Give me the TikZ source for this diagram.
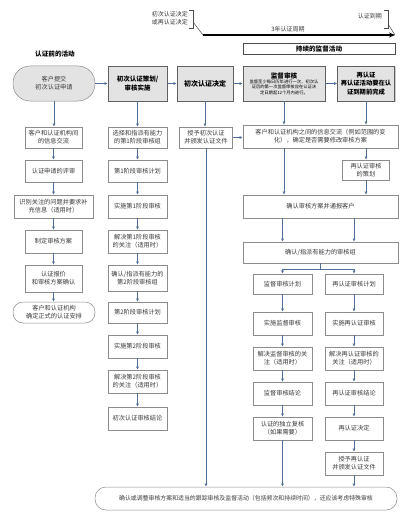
\documentclass[tikz,border=0pt]{standalone}
\usepackage{fontspec}
\setmainfont{Noto Sans CJK SC}
\usetikzlibrary{arrows.meta,shadows}
\definecolor{lncol}{HTML}{4F6F97}
\definecolor{bordc}{HTML}{8C8C8C}
\definecolor{hfill}{HTML}{E3E3E3}
\definecolor{txt}{HTML}{3A3A3A}
\tikzset{
 box/.style={draw=bordc, line width=0.5pt, fill=white, align=center, inner sep=1pt, text=txt, font=\fontsize{6.2}{8}\selectfont},
 hbox/.style={box, fill=hfill, draw=gray!75!black, text=black, font=\bfseries\fontsize{6.5}{9}\selectfont, general shadow={fill=gray!40, shadow xshift=1.2pt, shadow yshift=-1.2pt}},
 stad/.style={box, fill=hfill, rounded corners=10pt},
 conn/.style={draw=lncol, line width=0.6pt, -{Latex[length=3.2pt,width=3pt]}},
 cline/.style={draw=lncol, line width=0.6pt},
}
\begin{document}
\begin{tikzpicture}[x=1pt,y=-1pt]
\useasboundingbox (0,0) rectangle (412,527);
\fill[white] (0,0) rectangle (412,527);

% top timeline
\node[anchor=east, align=right, inner sep=0pt, text=txt, font=\fontsize{6}{7.5}\selectfont] (tdec) at (188,18) {初次认证决定\\或再认证决定};
\node[anchor=east, inner sep=0pt, text=txt, font=\fontsize{6}{7.5}\selectfont] (texp) at (382,16) {认证到期};
\draw[black!70, line width=0.5pt] (189,10) -- (193,10) -- (193,28) -- (189,28);
\draw[black!70, line width=0.5pt] (384,10) -- (388,10) -- (388,28) -- (384,28);
\coordinate (cs) at (203,35);
\coordinate (ce) at (395,35);
\draw[black!70, line width=0.5pt] (193,22) -- (cs);
\draw[black!70, line width=0.5pt] (388,24) -- (ce);
\draw[black, line width=1.4pt, -{Stealth[length=6pt,width=5pt]}] (cs) -- (ce);
\node[inner sep=0pt, text=txt, font=\fontsize{6}{7.5}\selectfont] (cyc) at (288,29) {3年认证周期};
\node[draw=black!70, line width=0.5pt, minimum width=152pt, minimum height=10.5pt, inner sep=0pt, font=\bfseries\fontsize{6.6}{8}\selectfont] (cont) at (319,49) {持续的监督活动};
\node[inner sep=0pt, font=\bfseries\fontsize{6.6}{8}\selectfont] (pre) at (55,54) {认证前的活动};

% row 1
\node[stad, rounded corners=17pt, minimum width=82pt, minimum height=35pt] (b1) at (54,83.5) {客户提交\\初次认证申请};
\node[hbox, minimum width=59pt, minimum height=35pt] (b2) at (137.5,83.5) {初次认证策划/\\审核实施};
\node[hbox, minimum width=56pt, minimum height=35pt, font=\bfseries\fontsize{7}{9}\selectfont] (b3) at (205,83.5) {初次认证决定};
\node[hbox, minimum width=82pt, minimum height=35pt, font=\fontsize{4.3}{5.4}\selectfont] (b4) at (284,83.5) {\textbf{\fontsize{6.6}{8.5}\selectfont 监督审核}\\监督至少每日历年进行一次，初次认\\证后的第一次监督审核应在认证决\\定日期起12个月内进行。};
\node[hbox, minimum width=57pt, minimum height=35pt, font=\bfseries\fontsize{6.3}{8.3}\selectfont] (b5) at (366,83.5) {再认证\\再认证活动要在认\\证到期前完成};

% left column
\node[box, minimum width=57pt, minimum height=21pt] (L1) at (53.5,137.5) {客户和认证机构间\\的信息交流};
\node[box, minimum width=57pt, minimum height=22pt] (L2) at (53.5,171) {认证申请的评审};
\node[box, minimum width=79pt, minimum height=23pt] (L3) at (53.5,206.5) {识别关注的问题并要求补\\充信息（适用时）};
\node[box, minimum width=57pt, minimum height=23pt] (L4) at (53.5,241.5) {制定审核方案};
\node[box, minimum width=57pt, minimum height=27pt] (L5) at (53.5,278.5) {认证报价\\和审核方案确认};
\node[stad, fill=white, minimum width=82pt, minimum height=21pt] (L6) at (54,312.5) {客户和认证机构\\确定正式的认证安排};

% middle column
\node[box, minimum width=59pt, minimum height=21pt] (M1) at (137.5,137.5) {选择和指派有能力\\的第1阶段审核组};
\node[box, minimum width=59pt, minimum height=22pt] (M2) at (137.5,171) {第1阶段审核计划};
\node[box, minimum width=59pt, minimum height=23pt] (M3) at (137.5,206.5) {实施第1阶段审核};
\node[box, minimum width=59pt, minimum height=23pt] (M4) at (137.5,241.5) {解决第1阶段审核\\的关注（适用时）};
\node[box, minimum width=59pt, minimum height=26pt] (M5) at (137.5,278) {确认/指派有能力的\\第2阶段审核组};
\node[box, minimum width=59pt, minimum height=21pt] (M6) at (137.5,312.5) {第2阶段审核计划};
\node[box, minimum width=59pt, minimum height=23pt] (M7) at (137.5,346.5) {实施第2阶段审核};
\node[box, minimum width=59pt, minimum height=23pt] (M8) at (137.5,381.5) {解决第2阶段审核\\的关注（适用时）};
\node[box, minimum width=59pt, minimum height=23pt] (M9) at (137.5,418.5) {初次认证审核结论};

% third column and right part
\node[box, minimum width=53pt, minimum height=21pt] (G1) at (206,137.5) {授予初次认证\\并颁发认证文件};
\node[box, minimum width=155pt, minimum height=23pt] (I1) at (320.5,136.5) {客户和认证机构之间的信息交流（例如范围的变\\化），确定是否需要修改审核方案};
\node[box, minimum width=47pt, minimum height=20pt] (R0) at (366,170) {再认证审核\\的策划};
\node[box, minimum width=155pt, minimum height=23pt] (C1) at (320.5,206.5) {确认审核方案并通报客户};
\node[box, minimum width=155pt, minimum height=21pt] (C2) at (320.5,252.5) {确认/指派有能力的审核组};

\node[box, minimum width=59pt, minimum height=20pt] (S1) at (282.5,284) {监督审核计划};
\node[box, minimum width=59pt, minimum height=23pt] (S2) at (282.5,323.5) {实施监督审核};
\node[box, minimum width=59pt, minimum height=23pt] (S3) at (282.5,358.5) {解决监督审核的关\\注（适用时）};
\node[box, minimum width=59pt, minimum height=23pt] (S4) at (282.5,393.5) {监督审核结论};
\node[box, minimum width=59pt, minimum height=23pt] (S5) at (282.5,428.5) {认证的独立复核\\（如果需要）};

\node[box, minimum width=58pt, minimum height=20pt] (T1) at (354,284) {再认证审核计划};
\node[box, minimum width=58pt, minimum height=23pt] (T2) at (354,323.5) {实施再认证审核};
\node[box, minimum width=58pt, minimum height=23pt] (T3) at (354,358.5) {解决再认证审核的\\关注（适用时）};
\node[box, minimum width=58pt, minimum height=23pt] (T4) at (354,393.5) {再认证审核结论};
\node[box, minimum width=58pt, minimum height=23pt] (T5) at (354,428.5) {再认证决定};
\node[box, minimum width=58pt, minimum height=23pt] (T6) at (354,463.5) {授予再认证\\并颁发认证文件};

\node[box, rounded corners=11pt, minimum width=302pt, minimum height=23pt, font=\fontsize{5.9}{7.5}\selectfont] (B) at (246,498.5) {确认或调整审核方案和适当的跟踪审核及监督活动（包括频次和持续时间），还应该考虑特殊审核};

% connectors row 1
\draw[conn] (b1.east) -- (b2.west);
\draw[conn] (b2.east) -- (b3.west);
\draw[conn] (b3.east) -- (b4.west);
\draw[conn] (b4.east) -- (b5.west);

% left column
\draw[conn] (b1.south) -- (b1.south |- L1.north);
\draw[conn] (L1) -- (L2);
\draw[conn] (L2) -- (L3);
\draw[conn] (L3) -- (L4);
\draw[conn] (L4) -- (L5);
\draw[conn] (L5.south) -- (L5.south |- L6.north);

% middle column
\draw[conn] (b2) -- (M1);
\draw[conn] (M1) -- (M2);
\draw[conn] (M2) -- (M3);
\draw[conn] (M3) -- (M4);
\draw[conn] (M4) -- (M5);
\draw[conn] (M5) -- (M6);
\draw[conn] (M6) -- (M7);
\draw[conn] (M7) -- (M8);
\draw[conn] (M8) -- (M9);

% third column
\draw[conn] (b3.south) -- (b3.south |- G1.north);
\draw[conn] (G1.east) -- (G1.east -| I1.west);
\draw[conn] (G1.south) -- (G1.south |- B.north);

% right part
\draw[conn] (b4.south) -- (b4.south |- I1.north);
\draw[conn] (b5.south) -- (b5.south |- I1.north);
\draw[conn] (R0.north |- I1.south) -- (R0.north);
\draw[conn] (b4.south |- I1.south) -- (b4.south |- C1.north);
\draw[conn] (R0.south) -- (R0.south |- C1.north);
\draw[conn] (S1.north |- C1.south) -- (S1.north |- C2.north);
\draw[conn] (T1.north |- C1.south) -- (T1.north |- C2.north);
\coordinate (sp) at (320.5,269);
\draw[cline] (C2.south) -- (sp);
\draw[conn] (sp) -| (S1.north);
\draw[conn] (sp) -| (T1.north);

\draw[conn] (S1) -- (S2);
\draw[conn] (S2) -- (S3);
\draw[conn] (S3) -- (S4);
\draw[conn] (S4) -- (S5);
\draw[conn] (S5.south) -- (S5.south |- B.north);

\draw[conn] (T1) -- (T2);
\draw[conn] (T2) -- (T3);
\draw[conn] (T3) -- (T4);
\draw[conn] (T4) -- (T5);
\draw[conn] (T5) -- (T6);
\draw[conn] (T6.south) -- (T6.south |- B.north);
\end{tikzpicture}
\end{document}
